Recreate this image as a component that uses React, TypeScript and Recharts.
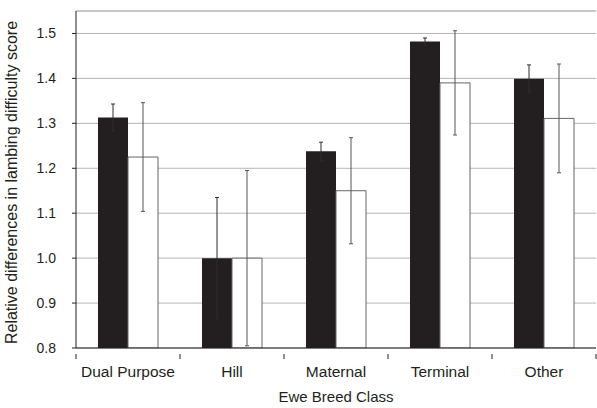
import { Bar, BarChart, CartesianGrid, ErrorBar, ReferenceLine, XAxis, YAxis } from "recharts"

const breeds = ["Dual Purpose", "Hill", "Maternal", "Terminal", "Other"]
const darkValues = [1.313, 1.0, 1.238, 1.482, 1.399]
const darkErrors = [0.03, 0.135, 0.02, 0.008, 0.031]
const lightValues = [1.225, 1.0, 1.15, 1.39, 1.311]
const lightErrors = [0.121, 0.195, 0.118, 0.116, 0.121]
const yTicks = [0.8, 0.9, 1.0, 1.1, 1.2, 1.3, 1.4, 1.5]

const data = breeds.map((name, i) => ({
  name,
  dark: darkValues[i],
  darkErr: darkErrors[i],
  light: lightValues[i],
  lightErr: lightErrors[i],
}))

const FONT = "'Liberation Sans', Arial, sans-serif"
const BAND = 104

function BreedTick(props: any) {
  const { x, y, payload, index } = props
  const top = y - 2
  return (
    <g>
      <line x1={x - BAND / 2} y1={top} x2={x - BAND / 2} y2={top + 5} stroke="#231f20" />
      {index === breeds.length - 1 && (
        <line x1={x + BAND / 2} y1={top} x2={x + BAND / 2} y2={top + 5} stroke="#231f20" />
      )}
      <text x={x} y={top + 23} textAnchor="middle" fontSize={15.5} fill="#231f20" fontFamily={FONT}>
        {payload.value}
      </text>
    </g>
  )
}

function YTitle(props: any) {
  const { viewBox } = props
  const cy = viewBox.y + viewBox.height / 2 + 3
  return (
    <text
      x={17}
      y={cy}
      transform={`rotate(-90, 17, ${cy})`}
      textAnchor="middle"
      fontSize={16}
      fill="#231f20"
      fontFamily={FONT}
    >
      Relative differences in lambing difficulty score
    </text>
  )
}

export default function App() {
  return (
    <div style={{ width: 597, height: 408, background: "#fff" }}>
      <style>{`body{margin:0}`}</style>
      <BarChart
        width={597}
        height={408}
        data={data}
        margin={{ top: 11, right: 1, left: 0, bottom: 0 }}
        barSize={30}
        barGap={0}
      >
        <CartesianGrid vertical={false} stroke="#b5b5b5" />
        <ReferenceLine y={1.55} stroke="#b5b5b5" />
        <XAxis
          dataKey="name"
          height={60}
          tickLine={false}
          axisLine={{ stroke: "#231f20" }}
          tick={<BreedTick />}
          interval={0}
          label={{
            value: "Ewe Breed Class",
            position: "insideBottom",
            offset: 6,
            fontSize: 15,
            fill: "#231f20",
            fontFamily: FONT,
          }}
        />
        <YAxis
          width={76}
          domain={[0.8, 1.55]}
          ticks={yTicks}
          allowDataOverflow
          tickFormatter={(v: number) => v.toFixed(1)}
          tickSize={4}
          tickMargin={16}
          tickLine={{ stroke: "#231f20" }}
          axisLine={{ stroke: "#231f20" }}
          tick={{ fontSize: 14, fill: "#231f20", fontFamily: FONT }}
          label={<YTitle />}
        />
        <Bar dataKey="dark" fill="#231f20" isAnimationActive={false}>
          <ErrorBar dataKey="darkErr" width={2} stroke="#2e2b2c" strokeWidth={1} />
        </Bar>
        <Bar dataKey="light" fill="#ffffff" stroke="#666" strokeWidth={1} isAnimationActive={false}>
          <ErrorBar dataKey="lightErr" width={2} stroke="#555" strokeWidth={1} />
        </Bar>
      </BarChart>
    </div>
  )
}
